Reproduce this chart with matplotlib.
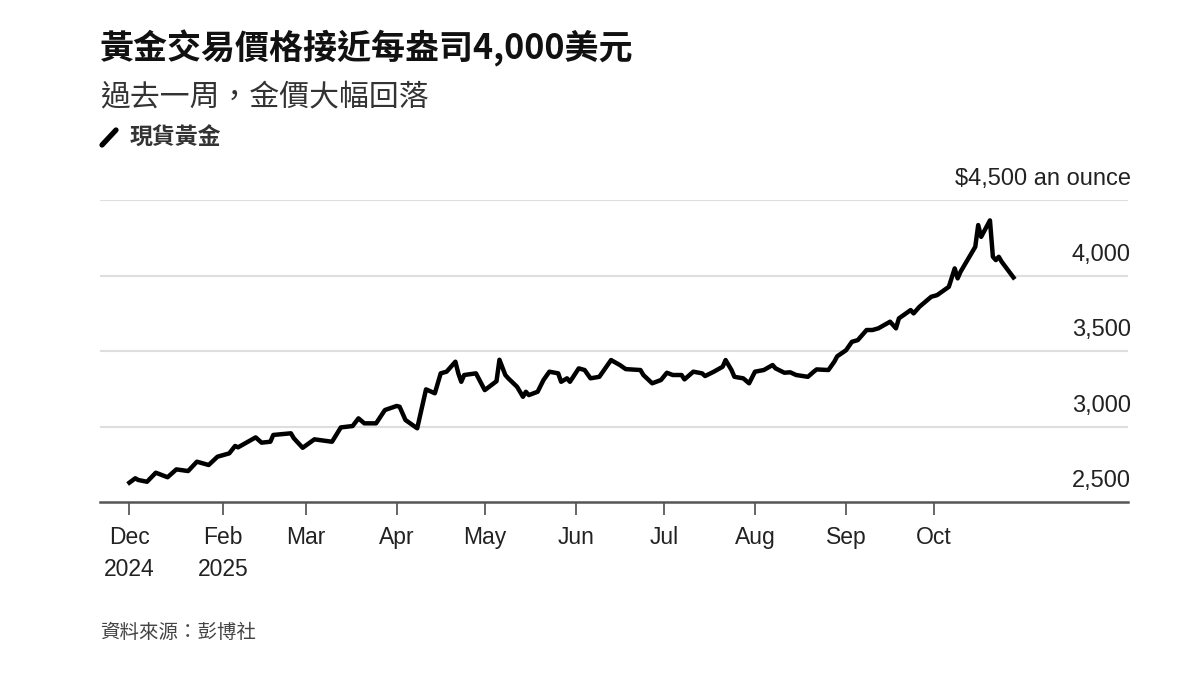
import matplotlib
matplotlib.use("Agg")
import matplotlib.pyplot as plt
import pandas as pd
from matplotlib.lines import Line2D

# spot gold
dates = [
    "2024-12-31", "2025-01-02", "2025-01-03", "2025-01-06", "2025-01-09",
    "2025-01-13", "2025-01-16", "2025-01-20", "2025-01-23", "2025-01-27",
    "2025-01-30", "2025-02-03", "2025-02-05", "2025-02-06", "2025-02-10",
    "2025-02-12", "2025-02-14", "2025-02-17", "2025-02-18", "2025-02-24",
    "2025-02-25", "2025-02-28", "2025-03-04", "2025-03-10", "2025-03-13",
    "2025-03-17", "2025-03-19", "2025-03-21", "2025-03-25", "2025-03-28",
    "2025-04-01", "2025-04-02", "2025-04-04", "2025-04-08", "2025-04-11",
    "2025-04-14", "2025-04-16", "2025-04-18", "2025-04-21", "2025-04-22",
    "2025-04-23", "2025-04-24", "2025-04-28", "2025-05-01", "2025-05-05",
    "2025-05-06", "2025-05-08", "2025-05-09", "2025-05-12", "2025-05-14",
    "2025-05-15", "2025-05-16", "2025-05-19", "2025-05-21", "2025-05-23",
    "2025-05-26", "2025-05-27", "2025-05-29", "2025-05-30", "2025-06-02",
    "2025-06-04", "2025-06-06", "2025-06-09", "2025-06-13", "2025-06-16",
    "2025-06-18", "2025-06-23", "2025-06-24", "2025-06-27", "2025-06-30",
    "2025-07-02", "2025-07-04", "2025-07-07", "2025-07-08", "2025-07-11",
    "2025-07-14", "2025-07-15", "2025-07-18", "2025-07-21", "2025-07-22",
    "2025-07-24", "2025-07-25", "2025-07-28", "2025-07-30", "2025-08-01",
    "2025-08-04", "2025-08-07", "2025-08-08", "2025-08-11", "2025-08-13",
    "2025-08-15", "2025-08-19", "2025-08-21", "2025-08-22", "2025-08-26",
    "2025-08-28", "2025-08-29", "2025-09-01", "2025-09-03", "2025-09-05",
    "2025-09-08", "2025-09-10", "2025-09-12", "2025-09-16", "2025-09-18",
    "2025-09-19", "2025-09-23", "2025-09-24", "2025-09-26", "2025-09-30",
    "2025-10-02", "2025-10-06", "2025-10-08", "2025-10-09", "2025-10-10",
    "2025-10-13", "2025-10-15", "2025-10-16", "2025-10-17", "2025-10-20",
    "2025-10-21", "2025-10-22", "2025-10-23", "2025-10-24", "2025-10-28",
]
prices = [
    2628, 2657, 2646, 2634, 2694,
    2664, 2716, 2705, 2767, 2745,
    2800, 2822, 2871, 2862, 2906,
    2928, 2893, 2899, 2944, 2955,
    2922, 2859, 2915, 2899, 2994,
    3003, 3054, 3021, 3021, 3109,
    3136, 3131, 3043, 2988, 3246,
    3220, 3352, 3363, 3429, 3352,
    3296, 3341, 3352, 3241, 3300,
    3442, 3341, 3319, 3263, 3197,
    3230, 3208, 3230, 3308, 3363,
    3352, 3296, 3319, 3296, 3385,
    3374, 3319, 3329, 3440, 3407,
    3380, 3374, 3341, 3286, 3308,
    3356, 3341, 3341, 3312, 3363,
    3352, 3334, 3363, 3396, 3440,
    3374, 3329, 3319, 3286, 3363,
    3374, 3407, 3385, 3356, 3359,
    3341, 3329, 3363, 3378, 3374,
    3429, 3465, 3505, 3561, 3572,
    3639, 3639, 3650, 3694, 3650,
    3716, 3771, 3749, 3793, 3859,
    3870, 3925, 4047, 3981, 4025,
    4124, 4190, 4334, 4256, 4365,
    4124, 4102, 4124, 4091, 3987,
]

tick_dates = ["2024-12-31", "2025-02-01", "2025-03-01", "2025-04-01", "2025-05-01",
              "2025-06-01", "2025-07-01", "2025-08-01", "2025-09-01", "2025-10-01"]
tick_labels = ["Dec\n2024", "Feb\n2025", "Mar", "Apr", "May",
               "Jun", "Jul", "Aug", "Sep", "Oct"]
y_levels = [2500, 3000, 3500, 4000, 4500]
y_labels = ["2,500", "3,000", "3,500", "4,000", "$4,500 an ounce"]

title = "黃金交易價格接近每盎司4,000美元"
subtitle = "過去一周，金價大幅回落"
legend_label = "現貨黃金"
source = "資料來源：彭博社"

cjk = ["Noto Sans CJK TC", "DejaVu Sans"]


def main():
    x = pd.to_datetime(dates)

    fig = plt.figure(figsize=(12, 6.75), dpi=100)
    ax = fig.add_axes([100 / 1200, 1 - 502 / 675, 1028 / 1200, 302 / 675])

    for v in y_levels[1:]:
        ax.axhline(v, color="#dedede", lw=1.5, zorder=0)

    ax.plot(x, prices, color="black", lw=3.2, solid_joinstyle="round", zorder=3)

    ax.set_ylim(2500, 4500)
    ax.set_xlim(pd.Timestamp("2024-12-21"), pd.Timestamp("2025-12-06"))

    for s in ["top", "left", "right"]:
        ax.spines[s].set_visible(False)
    ax.spines["bottom"].set_color("#555555")
    ax.spines["bottom"].set_linewidth(1.8)

    ax.set_yticks([])
    ax.set_xticks(pd.to_datetime(tick_dates))
    ax.set_xticklabels(tick_labels, fontsize=16.5, family="Liberation Sans",
                       color="#222222", linespacing=1.5)
    ax.tick_params(axis="x", direction="out", length=9, width=1.4,
                   color="#666666", pad=8)

    for v, lab in zip(y_levels, y_labels):
        ax.annotate(lab, xy=(1.0, v), xycoords=("axes fraction", "data"),
                    xytext=(2, 7), textcoords="offset points",
                    ha="right", va="bottom", fontsize=17,
                    family="Liberation Sans", color="#222222")

    fig.text(100 / 1200, 1 - 48 / 675, title, fontsize=24.5, weight="bold",
             va="center", family=cjk, color="#111111")
    fig.text(100 / 1200, 1 - 97 / 675, subtitle, fontsize=21.5,
             va="center", family=cjk, color="#333333")

    fig.add_artist(Line2D([102 / 1200, 116 / 1200], [1 - 145 / 675, 1 - 130 / 675],
                          transform=fig.transFigure, color="black", lw=3.8,
                          solid_capstyle="round"))
    fig.text(130 / 1200, 1 - 138 / 675, legend_label, fontsize=16.5, weight="bold",
             va="center", family=cjk, color="#333333")

    fig.text(100 / 1200, 1 - 632 / 675, source, fontsize=14,
             va="center", family=cjk, color="#444444")

    fig.savefig("out.png", dpi=100)


if __name__ == "__main__":
    main()
